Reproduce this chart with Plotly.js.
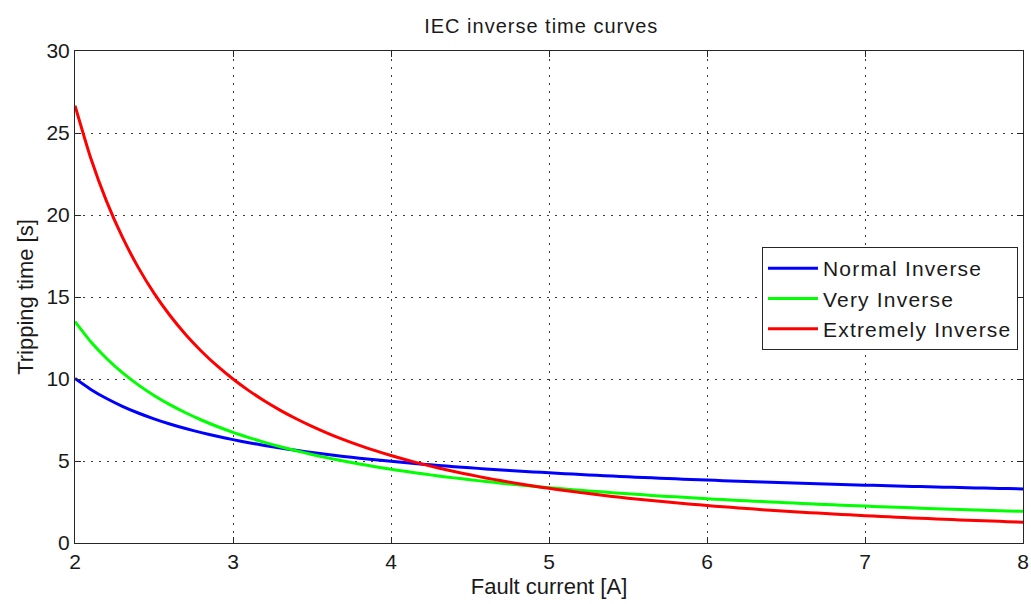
<!DOCTYPE html>
<html>
<head>
<meta charset="utf-8">
<script src="https://cdn.plot.ly/plotly-3.0.1.min.js"></script>
<style>
  html, body { margin: 0; padding: 0; background: #ffffff; }
  #chart { width: 1031px; height: 604px; }
  #chart .gtitle { letter-spacing: 1px; }
  .legendtext { letter-spacing: 1.2px; }
</style>
</head>
<body>
<div id="chart"></div>
<script>
// Fault current samples [A]
const current = [
  2.0, 2.1, 2.2, 2.3, 2.4, 2.5, 2.6, 2.7, 2.8, 2.9,
  3.0, 3.1, 3.2, 3.3, 3.4, 3.5, 3.6, 3.7, 3.8, 3.9,
  4.0, 4.1, 4.2, 4.3, 4.4, 4.5, 4.6, 4.7, 4.8, 4.9,
  5.0, 5.1, 5.2, 5.3, 5.4, 5.5, 5.6, 5.7, 5.8, 5.9,
  6.0, 6.1, 6.2, 6.3, 6.4, 6.5, 6.6, 6.7, 6.8, 6.9,
  7.0, 7.1, 7.2, 7.3, 7.4, 7.5, 7.6, 7.7, 7.8, 7.9,
  8.0
];

// Tripping time [s] – Normal Inverse
const normalInverse = [
  10.03, 9.365, 8.808, 8.334, 7.926, 7.570, 7.256, 6.978, 6.729, 6.505,
  6.302, 6.117, 5.948, 5.793, 5.650, 5.518, 5.395, 5.281, 5.174, 5.074,
  4.980, 4.891, 4.808, 4.729, 4.655, 4.584, 4.517, 4.454, 4.393, 4.335,
  4.280, 4.227, 4.176, 4.128, 4.081, 4.036, 3.994, 3.952, 3.912, 3.874,
  3.837, 3.801, 3.767, 3.734, 3.701, 3.670, 3.640, 3.610, 3.582, 3.555,
  3.528, 3.502, 3.476, 3.452, 3.428, 3.405, 3.382, 3.360, 3.338, 3.317,
  3.297
];

// Tripping time [s] – Very Inverse
const veryInverse = [
  13.50, 12.273, 11.25, 10.385, 9.643, 9.000, 8.438, 7.941, 7.500, 7.105,
  6.750, 6.429, 6.136, 5.870, 5.625, 5.400, 5.192, 5.000, 4.821, 4.655,
  4.500, 4.355, 4.219, 4.091, 3.971, 3.857, 3.750, 3.649, 3.553, 3.462,
  3.375, 3.293, 3.214, 3.140, 3.068, 3.000, 2.935, 2.872, 2.813, 2.755,
  2.700, 2.647, 2.596, 2.547, 2.500, 2.455, 2.411, 2.368, 2.328, 2.288,
  2.250, 2.213, 2.177, 2.143, 2.109, 2.077, 2.045, 2.015, 1.985, 1.957,
  1.929
];

// Tripping time [s] – Extremely Inverse
const extremelyInverse = [
  26.667, 23.460, 20.833, 18.648, 16.807, 15.238, 13.889, 12.719, 11.696, 10.796,
  10.000, 9.292, 8.658, 8.089, 7.576, 7.111, 6.689, 6.304, 5.952, 5.630,
  5.333, 5.060, 4.808, 4.574, 4.357, 4.156, 3.968, 3.793, 3.630, 3.477,
  3.333, 3.199, 3.072, 2.953, 2.841, 2.735, 2.635, 2.540, 2.451, 2.366,
  2.286, 2.209, 2.137, 2.068, 2.002, 1.939, 1.880, 1.823, 1.768, 1.716,
  1.667, 1.619, 1.574, 1.530, 1.488, 1.448, 1.409, 1.372, 1.337, 1.303,
  1.270
];

const seriesNames = ['Normal Inverse', 'Very Inverse', 'Extremely Inverse'];
const seriesColors = ['#0000ff', '#00ff00', '#ff0000'];
const seriesValues = [normalInverse, veryInverse, extremelyInverse];

const xTicks = [2, 3, 4, 5, 6, 7, 8];
const yTicks = [0, 5, 10, 15, 20, 25, 30];

const FONT = 'Arial, "Liberation Sans", Helvetica, sans-serif';
const AXIS_COLOR = '#262626';

const traces = seriesNames.map((name, i) => ({
  type: 'scatter',
  mode: 'lines',
  name: name,
  x: current,
  y: seriesValues[i],
  line: { color: seriesColors[i], width: 3, shape: 'spline', smoothing: 0.6 },
  hoverinfo: 'x+y+name'
}));

const axisCommon = {
  showline: true,
  linecolor: AXIS_COLOR,
  linewidth: 1,
  mirror: 'ticks',
  ticks: 'inside',
  ticklen: 6,
  tickwidth: 1,
  tickcolor: AXIS_COLOR,
  showgrid: true,
  gridcolor: '#3a3a3a',
  gridwidth: 1,
  griddash: '2px,6px',
  zeroline: false,
  tickfont: { family: FONT, size: 21, color: '#1a1a1a' },
  tickmode: 'array'
};

const layout = {
  width: 1031,
  height: 604,
  paper_bgcolor: '#ffffff',
  plot_bgcolor: '#ffffff',
  margin: { l: 75, r: 8, t: 51, b: 61, pad: 0 },
  title: {
    text: 'IEC inverse time curves',
    font: { family: FONT, size: 20, color: '#1a1a1a' },
    x: 0.525, xanchor: 'center',
    y: 1 - 26 / 604, yanchor: 'middle', yref: 'container'
  },
  xaxis: Object.assign({}, axisCommon, {
    range: [2, 8],
    tickvals: xTicks,
    ticktext: xTicks.map(String),
    title: {
      text: 'Fault current [A]',
      font: { family: FONT, size: 22, color: '#1a1a1a' },
      standoff: 6
    }
  }),
  yaxis: Object.assign({}, axisCommon, {
    range: [0, 30],
    tickvals: yTicks,
    ticktext: yTicks.map(String),
    title: {
      text: 'Tripping time [s]',
      font: { family: FONT, size: 22, color: '#1a1a1a' },
      standoff: 6
    }
  }),
  showlegend: true,
  legend: {
    x: 0.9947, xanchor: 'right',
    y: 0.6016, yanchor: 'top',
    bgcolor: '#ffffff',
    bordercolor: '#262626',
    borderwidth: 1,
    itemwidth: 50,
    font: { family: FONT, size: 21, color: '#1a1a1a' },
    tracegroupgap: 0
  }
};

Plotly.newPlot('chart', traces, layout, { displayModeBar: false, responsive: false });
</script>
</body>
</html>
